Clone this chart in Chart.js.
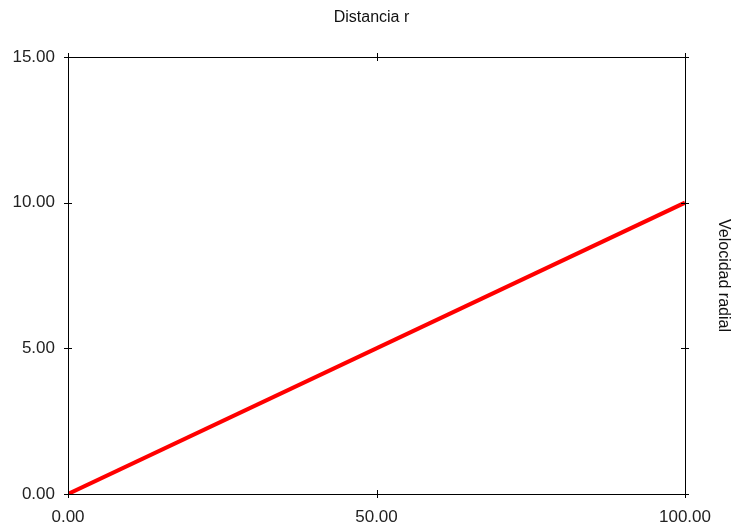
<!DOCTYPE html>
<html lang="es">
<head>
    <meta charset="UTF-8">
    <title>Velocidad radial</title>
    <script src="https://cdn.jsdelivr.net/npm/chart.js"></script>
    <style>
        body { margin: 0; background: white; }
        #wrap { width: 733px; height: 529px; }
    </style>
</head>
<body>
    <div id="wrap"><canvas id="chart" width="733" height="529"></canvas></div>
    <script>
        const distancia = [0, 100];
        const velocidad = [0, 10];
        const xTicks = [0, 50, 100];
        const yTicks = [0, 5, 10, 15];
        const xTitle = "Distancia r";
        const yTitle = "Velocidad radial";

        // border box + ticks that cross the border on all four sides
        const frame = {
            id: "frame",
            afterDraw(chart) {
                const ctx = chart.ctx;
                const a = chart.chartArea;
                const xs = chart.scales.x, ys = chart.scales.y;
                ctx.save();
                ctx.strokeStyle = "#000";
                ctx.lineWidth = 1;
                ctx.strokeRect(Math.round(a.left) + 0.5, Math.round(a.top) + 0.5,
                    Math.round(a.right - a.left), Math.round(a.bottom - a.top));
                ctx.beginPath();
                xTicks.forEach(v => {
                    const px = Math.round(xs.getPixelForValue(v)) + 0.5;
                    ctx.moveTo(px, a.bottom - 4); ctx.lineTo(px, a.bottom + 4);
                    ctx.moveTo(px, a.top - 4); ctx.lineTo(px, a.top + 4);
                });
                yTicks.forEach(v => {
                    const py = Math.round(ys.getPixelForValue(v)) + 0.5;
                    ctx.moveTo(a.left - 4, py); ctx.lineTo(a.left + 4, py);
                    ctx.moveTo(a.right - 4, py); ctx.lineTo(a.right + 4, py);
                });
                ctx.stroke();
                ctx.restore();
            }
        };

        new Chart(document.getElementById("chart"), {
            type: "line",
            data: {
                datasets: [{
                    data: distancia.map((x, i) => ({ x: x, y: velocidad[i] })),
                    borderColor: "#ff0000",
                    borderWidth: 4,
                    pointRadius: 0,
                    fill: false,
                    tension: 0
                }]
            },
            options: {
                responsive: false,
                animation: false,
                layout: { padding: { left: 10 } },
                plugins: {
                    legend: { display: false },
                    tooltip: { enabled: false },
                    title: {
                        display: true,
                        text: xTitle,
                        color: "#111",
                        font: { family: "Liberation Sans", size: 16, weight: "normal" },
                        padding: { top: 8, bottom: 29.8 }
                    }
                },
                scales: {
                    x: {
                        type: "linear",
                        min: 0, max: 100,
                        grid: { display: false },
                        border: { display: false },
                        afterBuildTicks: s => { s.ticks = xTicks.map(v => ({ value: v })); },
                        afterFit: s => { s.height = 35; },
                        ticks: {
                            color: "#222",
                            padding: 5,
                            maxRotation: 0,
                            font: { family: "Liberation Sans", size: 17 },
                            callback: v => Number(v).toFixed(2)
                        }
                    },
                    y: {
                        type: "linear",
                        min: 0, max: 15,
                        grid: { display: false },
                        border: { display: false },
                        afterBuildTicks: s => { s.ticks = yTicks.map(v => ({ value: v })); },
                        afterFit: s => { s.width = 58; },
                        ticks: {
                            color: "#222",
                            padding: 5,
                            font: { family: "Liberation Sans", size: 17 },
                            callback: v => Number(v).toFixed(2)
                        }
                    },
                    y2: {
                        type: "linear",
                        position: "right",
                        min: 0, max: 15,
                        grid: { display: false },
                        border: { display: false },
                        ticks: { display: false },
                        afterFit: s => { s.width = 48; },
                        title: {
                            display: true,
                            text: yTitle,
                            color: "#111",
                            font: { family: "Liberation Sans", size: 16 },
                            padding: { top: 0, bottom: 0 }
                        }
                    }
                }
            },
            plugins: [frame]
        });
    </script>
</body>
</html>
